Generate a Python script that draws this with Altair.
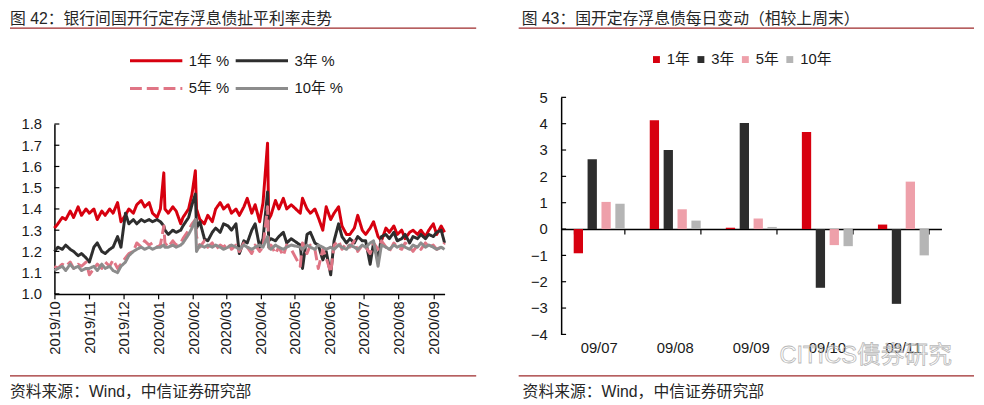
import altair as alt
import pandas as pd

FONT = "Liberation Sans, Noto Sans CJK SC"
RULE_COLOR = "#9e2a2b"

title_left = "图 42：银行间国开行定存浮息债扯平利率走势"
title_right = "图 43：国开定存浮息债每日变动（相较上周末）"
source_text = "资料来源：Wind，中信证券研究部"
watermark = "CITICS债券研究"

# ---------------- left chart data ----------------
dates = [
    "2019/10/01", "2019/10/04", "2019/10/08", "2019/10/11", "2019/10/15", "2019/10/18", "2019/10/22", "2019/10/25", "2019/10/29",
    "2019/11/01", "2019/11/05", "2019/11/08", "2019/11/12", "2019/11/15", "2019/11/19", "2019/11/22", "2019/11/26", "2019/11/29",
    "2019/12/03", "2019/12/06", "2019/12/10", "2019/12/13", "2019/12/17", "2019/12/20", "2019/12/24", "2019/12/27", "2019/12/31",
    "2020/01/03", "2020/01/06", "2020/01/07", "2020/01/10", "2020/01/14", "2020/01/17", "2020/01/21", "2020/01/23", "2020/01/28", "2020/01/31",
    "2020/02/03", "2020/02/04", "2020/02/07", "2020/02/11", "2020/02/14", "2020/02/18", "2020/02/21", "2020/02/25", "2020/02/28",
    "2020/03/03", "2020/03/06", "2020/03/10", "2020/03/13", "2020/03/17", "2020/03/20", "2020/03/24", "2020/03/27", "2020/03/31",
    "2020/04/03", "2020/04/07", "2020/04/08", "2020/04/10", "2020/04/14", "2020/04/17", "2020/04/21", "2020/04/24", "2020/04/28",
    "2020/05/06", "2020/05/08", "2020/05/12", "2020/05/15", "2020/05/19", "2020/05/22", "2020/05/26", "2020/05/29",
    "2020/06/02", "2020/06/05", "2020/06/09", "2020/06/12", "2020/06/16", "2020/06/19", "2020/06/23", "2020/06/26", "2020/06/30",
    "2020/07/03", "2020/07/07", "2020/07/10", "2020/07/14", "2020/07/17", "2020/07/21", "2020/07/24", "2020/07/28", "2020/07/31",
    "2020/08/04", "2020/08/07", "2020/08/11", "2020/08/14", "2020/08/18", "2020/08/21", "2020/08/25", "2020/08/28",
    "2020/09/01", "2020/09/04", "2020/09/08", "2020/09/11",
]

rate_1y = [
    1.31, 1.33, 1.36, 1.35, 1.39, 1.36, 1.41, 1.37, 1.40,
    1.38, 1.40, 1.35, 1.39, 1.37, 1.40, 1.38, 1.43, 1.34,
    1.37, 1.40, 1.38, 1.42, 1.44, 1.41, 1.43, 1.38, 1.36,
    1.40, 1.57, 1.40, 1.38, 1.41, 1.39, 1.33, 1.36, 1.40, 1.47,
    1.58, 1.40, 1.35, 1.33, 1.37, 1.34, 1.40, 1.43, 1.40,
    1.42, 1.38, 1.40, 1.37, 1.41, 1.45, 1.38, 1.42, 1.34,
    1.43, 1.71, 1.35, 1.37, 1.44, 1.40, 1.45, 1.40, 1.42,
    1.38, 1.45, 1.40, 1.38, 1.40, 1.36, 1.30, 1.41,
    1.35, 1.38, 1.41, 1.32, 1.28, 1.28, 1.31, 1.37, 1.30,
    1.28, 1.31, 1.34, 1.27, 1.25, 1.31, 1.29, 1.32, 1.28,
    1.30, 1.26, 1.29, 1.30, 1.28, 1.30, 1.27, 1.30,
    1.33, 1.28, 1.32, 1.29,
]
rate_3y = [
    1.20, 1.22, 1.21, 1.23, 1.21, 1.20, 1.18, 1.19, 1.17,
    1.15, 1.22, 1.24, 1.20, 1.19, 1.21, 1.22, 1.27, 1.22,
    1.38, 1.33, 1.35, 1.33, 1.35, 1.34, 1.35, 1.34, 1.35,
    1.34, 1.32, 1.30, 1.28, 1.30, 1.29, 1.30, 1.32, 1.36, 1.42,
    1.47, 1.31, 1.34, 1.26, 1.25, 1.29, 1.31, 1.29, 1.33,
    1.32, 1.30, 1.33, 1.19, 1.25, 1.24, 1.30, 1.33, 1.22,
    1.26, 1.48, 1.25, 1.26, 1.25, 1.27, 1.29, 1.24, 1.26,
    1.23, 1.12, 1.28, 1.29, 1.24, 1.23, 1.16, 1.20,
    1.09, 1.25, 1.33, 1.27, 1.24, 1.26, 1.24, 1.27, 1.25,
    1.25, 1.14, 1.24, 1.16, 1.27, 1.28, 1.26, 1.29, 1.25,
    1.26, 1.28, 1.24, 1.27, 1.26, 1.28, 1.26, 1.28,
    1.27, 1.29, 1.30, 1.24,
]
rate_5y = [
    1.13, 1.12, 1.14, 1.13, 1.15, 1.12, 1.14, 1.13, 1.15,
    1.09, 1.12, 1.14, 1.12, 1.15, 1.13, 1.16, 1.12, 1.14,
    1.17, 1.19, 1.20, 1.24, 1.22, 1.25, 1.23, 1.24, 1.22,
    1.23, 1.32, 1.24, 1.22, 1.25, 1.23, 1.24, 1.26, 1.30, 1.33,
    1.35, 1.27, 1.22, 1.25, 1.22, 1.24, 1.21, 1.23, 1.22,
    1.24, 1.21, 1.23, 1.20, 1.24, 1.22, 1.19, 1.23, 1.20,
    1.22, 1.41, 1.20, 1.23, 1.19, 1.22, 1.18, 1.23, 1.21,
    1.13, 1.24, 1.19, 1.23, 1.21, 1.12, 1.21, 1.17,
    1.10, 1.23, 1.25, 1.21, 1.24, 1.22, 1.25, 1.20, 1.23,
    1.22, 1.19, 1.24, 1.21, 1.25, 1.22, 1.20, 1.24, 1.22,
    1.21, 1.24, 1.22, 1.20, 1.23, 1.21, 1.24, 1.22,
    1.23, 1.21, 1.22, 1.24,
]
rate_10y = [
    1.11, 1.12, 1.13, 1.11, 1.14, 1.12, 1.13, 1.11, 1.12,
    1.12, 1.13, 1.11, 1.14, 1.12, 1.13, 1.11, 1.10, 1.13,
    1.15, 1.18, 1.20, 1.21, 1.22, 1.21, 1.22, 1.21, 1.22,
    1.22, 1.23, 1.22, 1.22, 1.23, 1.22, 1.23, 1.24, 1.28, 1.31,
    1.35, 1.20, 1.23, 1.22, 1.23, 1.22, 1.23, 1.22, 1.21,
    1.22, 1.23, 1.22, 1.21, 1.23, 1.22, 1.21, 1.22, 1.23,
    1.22, 1.27, 1.22, 1.21, 1.23, 1.22, 1.21, 1.22, 1.23,
    1.22, 1.21, 1.23, 1.22, 1.21, 1.23, 1.22, 1.21,
    1.22, 1.21, 1.23, 1.22, 1.21, 1.23, 1.22, 1.21, 1.23,
    1.22, 1.24, 1.25, 1.13, 1.23, 1.22, 1.21, 1.23, 1.22,
    1.23, 1.22, 1.21, 1.23, 1.22, 1.24, 1.22, 1.23,
    1.22, 1.21, 1.22, 1.21,
]

line_series = ["1年 %", "3年 %", "5年 %", "10年 %"]
line_colors = ["#d7000f", "#2e2e2e", "#e07585", "#8c8c8c"]
line_dashes = [[1, 0], [1, 0], [12, 5], [1, 0]]
line_widths = [3, 3, 3, 2.2]
left_yticks = [1.0, 1.1, 1.2, 1.3, 1.4, 1.5, 1.6, 1.7, 1.8]

# ---------------- right chart data ----------------
days = ["09/07", "09/08", "09/09", "09/10", "09/11"]
tenors = ["1年", "3年", "5年", "10年"]
chg_1y = [-0.92, 4.13, 0.05, 3.68, 0.17]
chg_3y = [2.65, 3.00, 4.03, -2.23, -2.84]
chg_5y = [1.03, 0.75, 0.40, -0.61, 1.80]
chg_10y = [0.96, 0.32, 0.08, -0.65, -1.00]
bar_colors = ["#d7000f", "#2d2d2d", "#eea0aa", "#b5b5b5"]
right_yticks = [-4, -3, -2, -1, 0, 1, 2, 3, 4, 5]

# ---------------- tables ----------------
rows = []
for name, vals in zip(line_series, [rate_1y, rate_3y, rate_5y, rate_10y]):
    for d, v in zip(dates, vals):
        rows.append({"date": d, "series": name, "value": v})
df_lines = pd.DataFrame(rows)

brows = []
for name, vals in zip(tenors, [chg_1y, chg_3y, chg_5y, chg_10y]):
    for d, v in zip(days, vals):
        brows.append({"day": d, "tenor": name, "chg": v})
df_bars = pd.DataFrame(brows)

# ---------------- layout constants ----------------
# both panels share the same plot origin row
W1, H1 = 395, 199
LEFT_TOP = 27          # left y-range starts 27px below the shared origin
W2, H2 = 385, 240


def text_layer(txt, x, y, size=16, color="#262626", baseline="top"):
    return alt.Chart(pd.DataFrame({"t": [txt]})).mark_text(
        align="left", baseline=baseline, fontSize=size, font=FONT, color=color
    ).encode(x=alt.value(x), y=alt.value(y), text="t:N")


def hrule(x1, x2, y):
    return alt.Chart(pd.DataFrame({"k": [0]})).mark_rule(
        color=RULE_COLOR, strokeWidth=1.2
    ).encode(x=alt.value(x1), x2=alt.value(x2), y=alt.value(y))


# ---------------- left panel ----------------
left_legend = alt.Legend(
    orient="none", legendX=75, legendY=-45, columns=2, direction="horizontal", title=None,
    symbolType="stroke", symbolSize=2809, labelFontSize=15, labelOffset=5,
    columnPadding=5, rowPadding=12, clipHeight=16, padding=0,
    labelFont=FONT, labelColor="#1a1a1a",
)

left_y_axis = alt.Axis(values=left_yticks, format=".1f", tickSize=0, labelPadding=13,
                       labelFontSize=15, grid=False, labelOverlap=False)
left_y_scale = alt.Scale(domain=[1.0, 1.8], nice=False, range=[H1, LEFT_TOP])

lines = alt.Chart(df_lines).mark_line(strokeJoin="round").encode(
    x=alt.X(
        "date:T", title=None,
        scale=alt.Scale(domain=[alt.DateTime(year=2019, month=10, date=1),
                                alt.DateTime(year=2020, month=9, date=11)]),
        axis=alt.Axis(format="%Y/%m", tickCount={"interval": "month", "step": 1},
                      labelAngle=-90, labelAlign="right", labelBaseline="middle",
                      labelFontSize=15, tickSize=5, labelPadding=2, grid=False,
                      labelOverlap=False),
    ),
    y=alt.Y("value:Q", title=None, scale=left_y_scale, axis=left_y_axis),
    color=alt.Color("series:N", sort=line_series,
                    scale=alt.Scale(domain=line_series, range=line_colors), legend=left_legend),
    strokeDash=alt.StrokeDash("series:N", sort=line_series,
                              scale=alt.Scale(domain=line_series, range=line_dashes), legend=left_legend),
    strokeWidth=alt.StrokeWidth("series:N", sort=line_series,
                                scale=alt.Scale(domain=line_series, range=line_widths), legend=left_legend),
)

left_ticks = alt.Chart(pd.DataFrame({"v": left_yticks})).mark_rule(color="#000", strokeWidth=1.2).encode(
    y=alt.Y("v:Q", title=None, scale=left_y_scale, axis=left_y_axis), x=alt.value(0), x2=alt.value(5)
)

left = alt.layer(
    lines, left_ticks,
    text_layer(title_left, -45, -87),
    hrule(-45, 427, -70),
    hrule(-45, 427, 282),
    text_layer(source_text, -45, 298, baseline="middle"),
).properties(width=W1, height=H1)

# ---------------- right panel ----------------
zero_off = -(H2 * 4 / 9)

right_y_axis = alt.Axis(values=right_yticks, tickSize=0, labelPadding=14,
                        labelFontSize=15, grid=False, labelOverlap=False)
right_y_scale = alt.Scale(domain=[-4, 5], nice=False)

bars = alt.Chart(df_bars).mark_bar().encode(
    x=alt.X("day:N", sort=days, title=None,
            scale=alt.Scale(paddingInner=0.33, paddingOuter=0.165),
            axis=alt.Axis(labelAngle=0, domain=False, ticks=False, tickSize=0,
                          labelPadding=6, labelFontSize=15, grid=False)),
    xOffset=alt.XOffset("tenor:N", sort=tenors,
                        scale=alt.Scale(paddingInner=0.33, paddingOuter=0)),
    y=alt.Y("chg:Q", title=None, scale=right_y_scale, axis=right_y_axis),
    color=alt.Color("tenor:N", sort=tenors,
                    scale=alt.Scale(domain=tenors, range=bar_colors),
                    legend=alt.Legend(orient="none", legendX=89, legendY=-46,
                                      direction="horizontal", columns=4, title=None,
                                      symbolType="square", symbolSize=49,
                                      labelFontSize=15, labelOffset=3, columnPadding=3,
                                      gridAlign="each",
                                      padding=0, symbolStrokeWidth=0, labelFont=FONT,
                                      labelColor="#1a1a1a")),
)

zero_axis = alt.Chart(pd.DataFrame({"day": days})).mark_point(opacity=0).encode(
    x=alt.X("day:N", sort=days, title=None,
            axis=alt.Axis(orient="bottom", offset=zero_off, labels=False, ticks=True,
                          tickBand="extent", tickSize=5, domain=True, grid=False)),
    y=alt.value(0),
)

right_ticks = alt.Chart(pd.DataFrame({"v": right_yticks})).mark_rule(color="#000", strokeWidth=1.2).encode(
    y=alt.Y("v:Q", title=None, scale=right_y_scale, axis=right_y_axis), x=alt.value(0), x2=alt.value(5)
)

wm = alt.Chart(pd.DataFrame({"t": [watermark]})).mark_text(
    align="left", baseline="middle", fontSize=24, font=FONT,
    fill="#ffffff", fillOpacity=0, stroke="#b8b8b8", strokeWidth=0.8,
).encode(x=alt.value(221), y=alt.value(262), text="t:N")

right = alt.layer(
    bars, zero_axis, right_ticks, wm,
    text_layer(title_right, -40, -87),
    hrule(-43, 418, -70),
    hrule(-43, 418, 282),
    text_layer(source_text, -39, 298, baseline="middle"),
).resolve_axis(x="independent").properties(width=W2, height=H2)

chart = alt.hconcat(left, right, spacing=39).resolve_scale(
    color="independent", strokeDash="independent", strokeWidth="independent"
).resolve_legend(color="independent").properties(
    padding=0, background="white"
).configure_view(stroke="transparent").configure_axis(
    labelFont=FONT, labelColor="#1a1a1a", domainColor="#000", tickColor="#000",
    domainWidth=1.5, tickWidth=1.2,
)

chart.save("out.html", embed_options={"renderer": "svg", "actions": False})
